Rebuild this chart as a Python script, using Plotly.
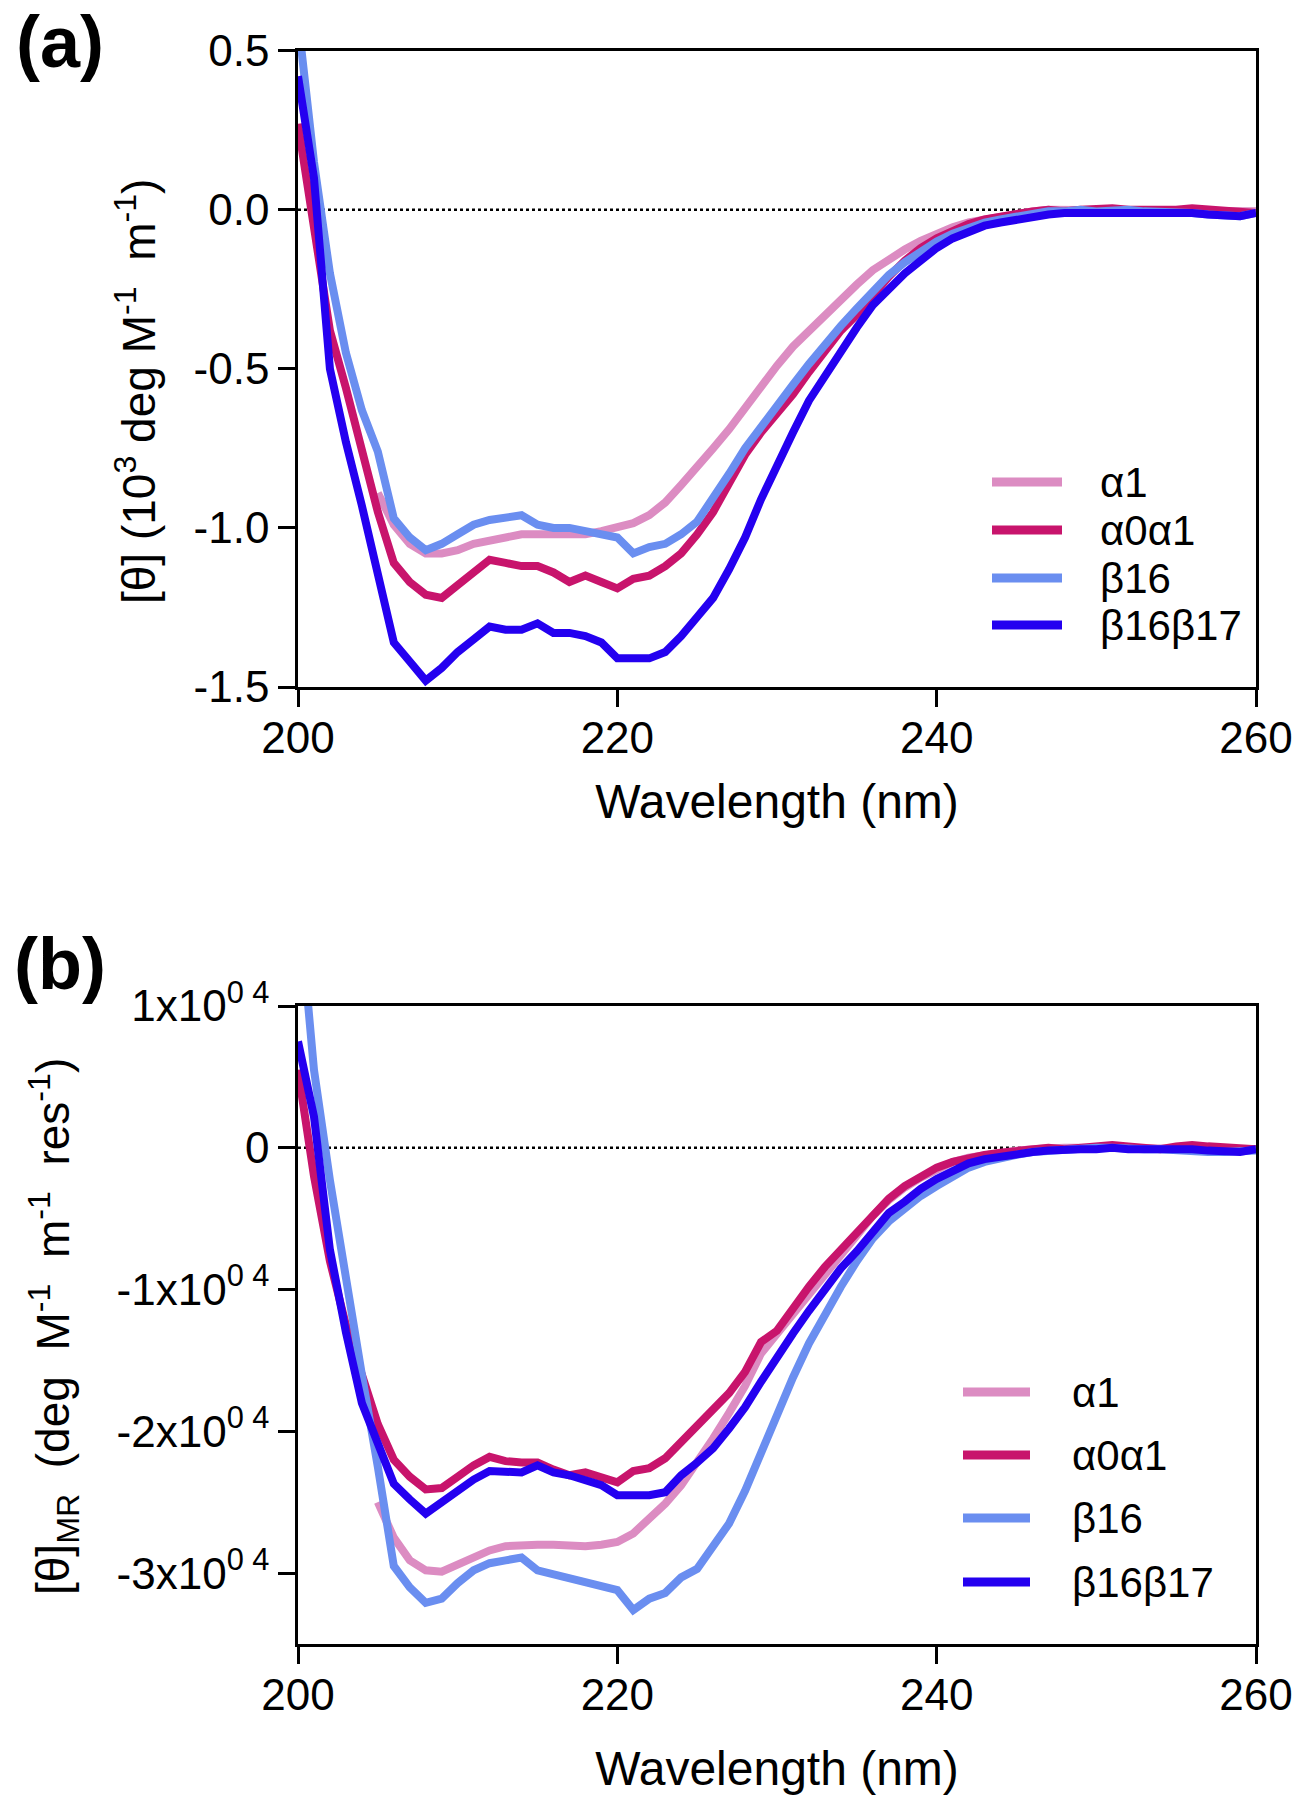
import plotly.graph_objects as go

W, H = 1298, 1800
FONT = "Liberation Sans, Arial, sans-serif"

# wavelength (nm)
wl = list(range(200, 261))
wl_a1 = list(range(205, 261))  # alpha1 trace starts at 205 nm

names = ["α1", "α0α1", "β16", "β16β17"]
colors = ["#DC8CC2", "#C8146C", "#6A8EF0", "#2400F0"]

# (a) [theta] in 10^3 deg M-1 m-1
a_a1 = [-0.89, -0.99, -1.05, -1.08, -1.08, -1.07, -1.05, -1.04, -1.025, -1.02,
        -1.02, -1.02, -1.02, -1.02, -1.01, -1.0, -0.985, -0.96, -0.92, -0.865,
        -0.81, -0.75, -0.69, -0.62, -0.55, -0.49, -0.43, -0.38, -0.33, -0.28,
        -0.235, -0.19, -0.155, -0.125, -0.098, -0.075, -0.055, -0.04, -0.03, -0.02,
        -0.01, -0.005, 0, 0, 0, 0, 0, 0, -0.005, 0,
        0, 0, 0, -0.005, -0.005, -0.005]
a_a0a1 = [0.27, -0.05, -0.38, -0.56, -0.76, -0.95, -1.11, -1.17, -1.21, -1.22,
          -1.18, -1.14, -1.10, -1.11, -1.12, -1.12, -1.14, -1.17, -1.15, -1.17,
          -1.19, -1.16, -1.15, -1.12, -1.08, -1.02, -0.95, -0.86, -0.77, -0.70,
          -0.64, -0.58, -0.51, -0.44, -0.38, -0.33, -0.27, -0.21, -0.16, -0.12,
          -0.09, -0.065, -0.045, -0.03, -0.02, -0.015, -0.005, 0, -0.005, 0,
          0.005, 0.005, 0, 0, -0.005, 0, 0.005, 0, -0.005, -0.01, -0.01]
a_b16 = [0.6, 0.15, -0.2, -0.45, -0.63, -0.76, -0.97, -1.03, -1.07, -1.05,
         -1.02, -0.99, -0.975, -0.965, -0.96, -0.99, -1.0, -1.0, -1.01, -1.02,
         -1.03, -1.08, -1.06, -1.05, -1.02, -0.98, -0.91, -0.83, -0.75, -0.68,
         -0.61, -0.55, -0.485, -0.42, -0.365, -0.31, -0.255, -0.205, -0.165, -0.13,
         -0.10, -0.075, -0.055, -0.04, -0.03, -0.02, -0.01, -0.005, -0.005, 0,
         -0.005, 0, 0, -0.005, -0.005, -0.01, -0.01, -0.015, -0.02, -0.02, -0.01]
a_b16b17 = [0.42, 0.1, -0.5, -0.73, -0.93, -1.15, -1.36, -1.42, -1.48, -1.44,
            -1.39, -1.35, -1.31, -1.32, -1.32, -1.30, -1.33, -1.33, -1.34, -1.36,
            -1.41, -1.41, -1.41, -1.39, -1.34, -1.28, -1.22, -1.13, -1.03, -0.91,
            -0.80, -0.70, -0.60, -0.52, -0.44, -0.37, -0.30, -0.25, -0.20, -0.16,
            -0.12, -0.09, -0.07, -0.05, -0.04, -0.03, -0.02, -0.015, -0.01, -0.01,
            -0.01, -0.005, -0.01, -0.01, -0.005, -0.01, -0.01, -0.015, -0.02, -0.02, -0.01]

a_ticks = [0.5, 0, -0.5, -1.0, -1.5]
a_ticktext = ["0.5", "0.0", "-0.5", "-1.0", "-1.5"]

# (b) [theta]MR in units of 10^4 deg M-1 m-1 res-1
b_a1 = [-2.5, -2.75, -2.91, -2.98, -2.99, -2.94, -2.88, -2.84, -2.81, -2.8,
        -2.8, -2.8, -2.81, -2.81, -2.8, -2.78, -2.72, -2.62, -2.51, -2.38,
        -2.22, -2.05, -1.87, -1.68, -1.45, -1.31, -1.17, -1.02, -0.88, -0.74,
        -0.62, -0.48, -0.37, -0.28, -0.21, -0.15, -0.1, -0.07, -0.05, -0.03,
        -0.02, -0.01, 0, 0, 0, 0, 0, 0, -0.01, 0,
        0, 0, 0, -0.01, -0.01, -0.01]
b_a0a1 = [0.55, -0.2, -0.8, -1.25, -1.6, -1.95, -2.2, -2.32, -2.41, -2.40,
          -2.32, -2.24, -2.18, -2.21, -2.22, -2.22, -2.27, -2.31, -2.29, -2.33,
          -2.36, -2.28, -2.26, -2.19, -2.07, -1.97, -1.84, -1.73, -1.58, -1.37,
          -1.29, -1.13, -0.98, -0.84, -0.72, -0.61, -0.48, -0.36, -0.27, -0.2,
          -0.14, -0.1, -0.07, -0.05, -0.035, -0.02, -0.01, 0, -0.01, 0,
          0.01, 0.02, 0.01, 0, -0.01, 0.01, 0.02, 0.01, 0, -0.01, -0.01]
b_b16 = [1.8, 0.55, -0.23, -0.95, -1.6, -2.25, -2.95, -3.1, -3.21, -3.18,
         -3.07, -2.98, -2.93, -2.91, -2.89, -2.98, -3.01, -3.04, -3.07, -3.1,
         -3.12, -3.26, -3.18, -3.14, -3.03, -2.97, -2.82, -2.65, -2.42, -2.15,
         -1.86, -1.62, -1.38, -1.17, -0.98, -0.8, -0.64, -0.52, -0.43, -0.34,
         -0.27, -0.2, -0.14, -0.1, -0.07, -0.05, -0.03, -0.02, -0.01, -0.01,
         0, 0, -0.01, -0.01, -0.01, -0.02, -0.02, -0.03, -0.03, -0.03, -0.02]
b_b16b17 = [0.75, 0.22, -0.72, -1.3, -1.8, -2.1, -2.37, -2.48, -2.58, -2.5,
            -2.42, -2.34, -2.28, -2.29, -2.29, -2.24, -2.29, -2.31, -2.34, -2.38,
            -2.45, -2.45, -2.45, -2.43, -2.31, -2.22, -2.12, -1.98, -1.83, -1.65,
            -1.47, -1.31, -1.15, -0.99, -0.85, -0.73, -0.59, -0.46, -0.38, -0.29,
            -0.22, -0.16, -0.11, -0.08, -0.06, -0.04, -0.03, -0.02, -0.01, -0.01,
            -0.01, 0, -0.01, -0.01, 0, -0.01, -0.01, -0.02, -0.03, -0.03, -0.01]

b_ticks = [1, 0, -1, -2, -3]
b_ticktext = ["1x10<sup>0 4</sup>", "0", "-1x10<sup>0 4</sup>",
              "-2x10<sup>0 4</sup>", "-3x10<sup>0 4</sup>"]

panel_a = [(wl_a1, a_a1), (wl, a_a0a1), (wl, a_b16), (wl, a_b16b17)]
panel_b = [(wl_a1, b_a1), (wl, b_a0a1), (wl, b_b16), (wl, b_b16b17)]

fig = go.Figure()
for i, (x, y) in enumerate(panel_a):
    fig.add_trace(go.Scatter(x=x, y=y, mode="lines", name=names[i], showlegend=False,
                             line=dict(color=colors[i], width=8), xaxis="x", yaxis="y"))
for i, (x, y) in enumerate(panel_b):
    fig.add_trace(go.Scatter(x=x, y=y, mode="lines", name=names[i], showlegend=False,
                             line=dict(color=colors[i], width=8), xaxis="x2", yaxis="y2"))

xdom = [298 / W, 1256 / W]
ax = dict(showline=True, linecolor="black", linewidth=2.5, mirror=True,
          ticks="outside", ticklen=17, tickwidth=2.5, tickcolor="black",
          showgrid=False, zeroline=False, automargin=False,
          tickfont=dict(family=FONT, size=44, color="black"))

def xtitle(so):
    return dict(text="Wavelength (nm)", font=dict(family=FONT, size=48, color="black"), standoff=so)

fig.update_layout(
    width=W, height=H, margin=dict(l=0, r=0, t=0, b=0),
    paper_bgcolor="white", plot_bgcolor="white",
    xaxis=dict(ax, domain=xdom, anchor="y", range=[200, 260], tickvals=[200, 220, 240, 260],
               ticklabelstandoff=-7, title=xtitle(24)),
    yaxis=dict(ax, domain=[1 - 687 / H, 1 - 50.7 / H], anchor="x", range=[-1.5, 0.5],
               tickvals=a_ticks, ticktext=a_ticktext),
    xaxis2=dict(ax, domain=xdom, anchor="y2", range=[200, 260], tickvals=[200, 220, 240, 260],
                ticklabelstandoff=-7, title=xtitle(34)),
    yaxis2=dict(ax, domain=[1 - 1644 / H, 1 - 1006 / H], anchor="x2", range=[-3.5, 1],
                tickvals=b_ticks, ticktext=b_ticktext),
)

# y titles as rotated text
ytitles = [
    ("[θ]&nbsp;(10<sup>3</sup> deg M<sup>-1</sup>&nbsp; m<sup>-1</sup>)", 136, 392),
    ("[θ]<sub>MR</sub>&nbsp; (deg&nbsp; M<sup>-1</sup>&nbsp; m<sup>-1</sup>&nbsp; res<sup>-1</sup>)", 53, 1327),
]
for txt, cx, cy in ytitles:
    fig.add_annotation(text=txt, xref="paper", yref="paper", x=cx / W, y=1 - cy / H,
                       textangle=-90, showarrow=False, xanchor="center", yanchor="middle",
                       font=dict(family=FONT, size=46, color="black"))

# dotted zero lines
for xr, yr in [("x", "y"), ("x2", "y2")]:
    fig.add_shape(type="line", xref=xr, yref=yr, x0=200, x1=260, y0=0, y1=0,
                  line=dict(color="black", width=2.5, dash="dot"), layer="below")

# panel labels
for txt, yy in [("(a)", 42), ("(b)", 964)]:
    fig.add_annotation(text="<b>%s</b>" % txt, xref="paper", yref="paper",
                       x=60 / W, y=1 - yy / H, showarrow=False, xanchor="center", yanchor="middle",
                       font=dict(family=FONT, size=72, color="black"))

# legends drawn by hand (long line samples)
legends = [
    dict(rows=[482, 530, 578, 625], x0=992, x1=1062, xt=1098),
    dict(rows=[1392, 1455, 1518, 1582], x0=963, x1=1030, xt=1070),
]
for lg in legends:
    for i, ry in enumerate(lg["rows"]):
        fig.add_shape(type="line", xref="paper", yref="paper",
                      x0=lg["x0"] / W, x1=lg["x1"] / W, y0=1 - ry / H, y1=1 - ry / H,
                      line=dict(color=colors[i], width=9))
        fig.add_annotation(text=names[i], xref="paper", yref="paper",
                           x=lg["xt"] / W, y=1 - ry / H, showarrow=False,
                           xanchor="left", yanchor="middle",
                           font=dict(family=FONT, size=42, color="black"))

fig.write_html("out.html", config={"displayModeBar": False},
               post_script="document.body.style.margin='0px';")
